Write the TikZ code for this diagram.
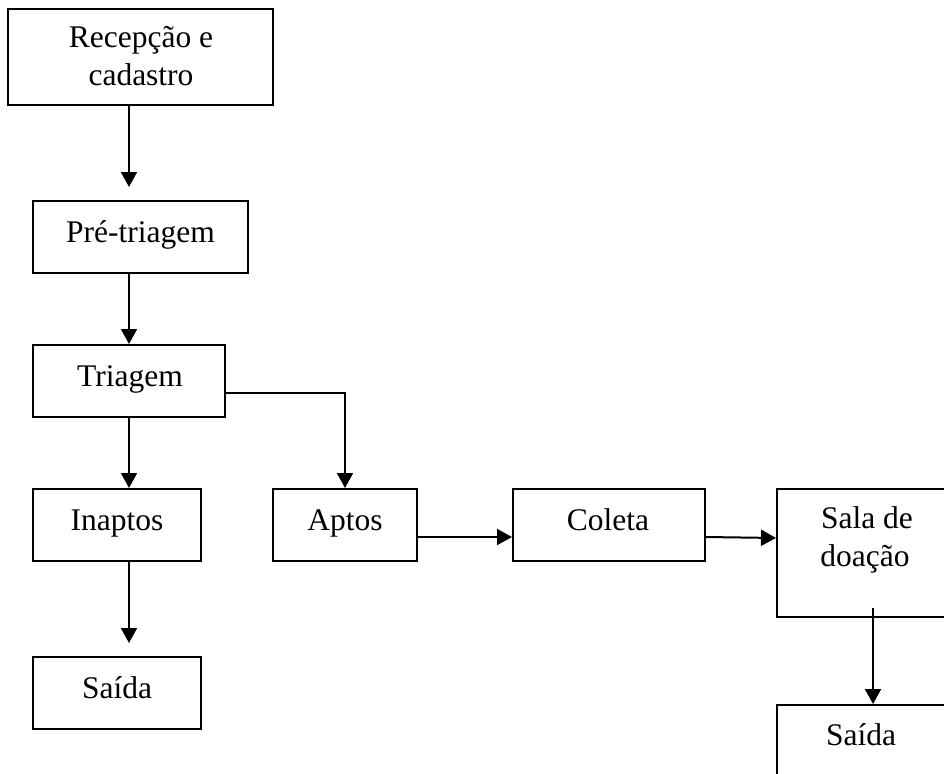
\documentclass[tikz,border=0pt]{standalone}
\usepackage{fontspec}
\setmainfont{Liberation Serif}
\usetikzlibrary{arrows.meta}
\begin{document}
\begin{tikzpicture}[x=1pt,y=-1pt,
  box/.style={draw,line width=2pt,inner sep=0pt},
  txt/.style={anchor=base,inner sep=0pt,font=\fontsize{31.5}{38}\selectfont},
  arr/.style={line width=2pt,-{Triangle[length=15pt,width=16pt]}},
  ln/.style={line width=2pt}]
\useasboundingbox (0,0) rectangle (944,773);
\clip (0,0) rectangle (944,773);
% boxes
\node[box,minimum width=265pt,minimum height=96pt] (rec) at (140.5,57) {};
\node[box,minimum width=215pt,minimum height=72pt] (pre) at (140.5,237) {};
\node[box,minimum width=192pt,minimum height=72pt] (tri) at (129,381) {};
\node[box,minimum width=168pt,minimum height=72pt] (inap) at (117,525) {};
\node[box,minimum width=144pt,minimum height=72pt] (apt) at (345,525) {};
\node[box,minimum width=192pt,minimum height=72pt] (col) at (609,525) {};
\node[box,minimum width=200pt,minimum height=128pt] (sala) at (877,553) {};
\node[box,minimum width=168pt,minimum height=72pt] (sai1) at (117,693) {};
\node[box,minimum width=200pt,minimum height=100pt] (sai2) at (877,755) {};
% texts
\node[txt] (recA) at (141,48) {Recepção e};
\node[txt] (recB) at (141,86) {cadastro};
\node[txt] (preT) at (140.5,242) {Pré-triagem};
\node[txt] (triT) at (130,386) {Triagem};
\node[txt] (inapT) at (117,530) {Inaptos};
\node[txt] (aptT) at (345,530) {Aptos};
\node[txt] (colT) at (608,530) {Coleta};
\node[txt] (salaA) at (867,528) {Sala de};
\node[txt] (salaB) at (865,566) {doação};
\node[txt] (sai1T) at (117,698) {Saída};
\node[txt] (sai2T) at (861,745) {Saída};
% connectors
\coordinate (salaOut) at (873,608);
\draw[arr,shorten >=13pt] (rec.south -| tri.north) -- (pre.north -| tri.north);
\draw[arr] (pre.south -| tri.north) -- (tri.north);
\draw[arr] (tri.south) -- (inap.north -| tri.south);
\draw[arr] (tri.east |- 0,393) -| (apt.north);
\draw[arr,shorten >=13pt] (inap.south -| tri.south) -- (sai1.north -| tri.south);
\draw[arr] (apt.east |- 0,537) -- (col.west |- 0,537);
\draw[arr] (col.east |- 0,537) -- (sala.west |- 0,538);
\draw[arr] (salaOut) -- (sai2.north -| salaOut);
\end{tikzpicture}
\end{document}
